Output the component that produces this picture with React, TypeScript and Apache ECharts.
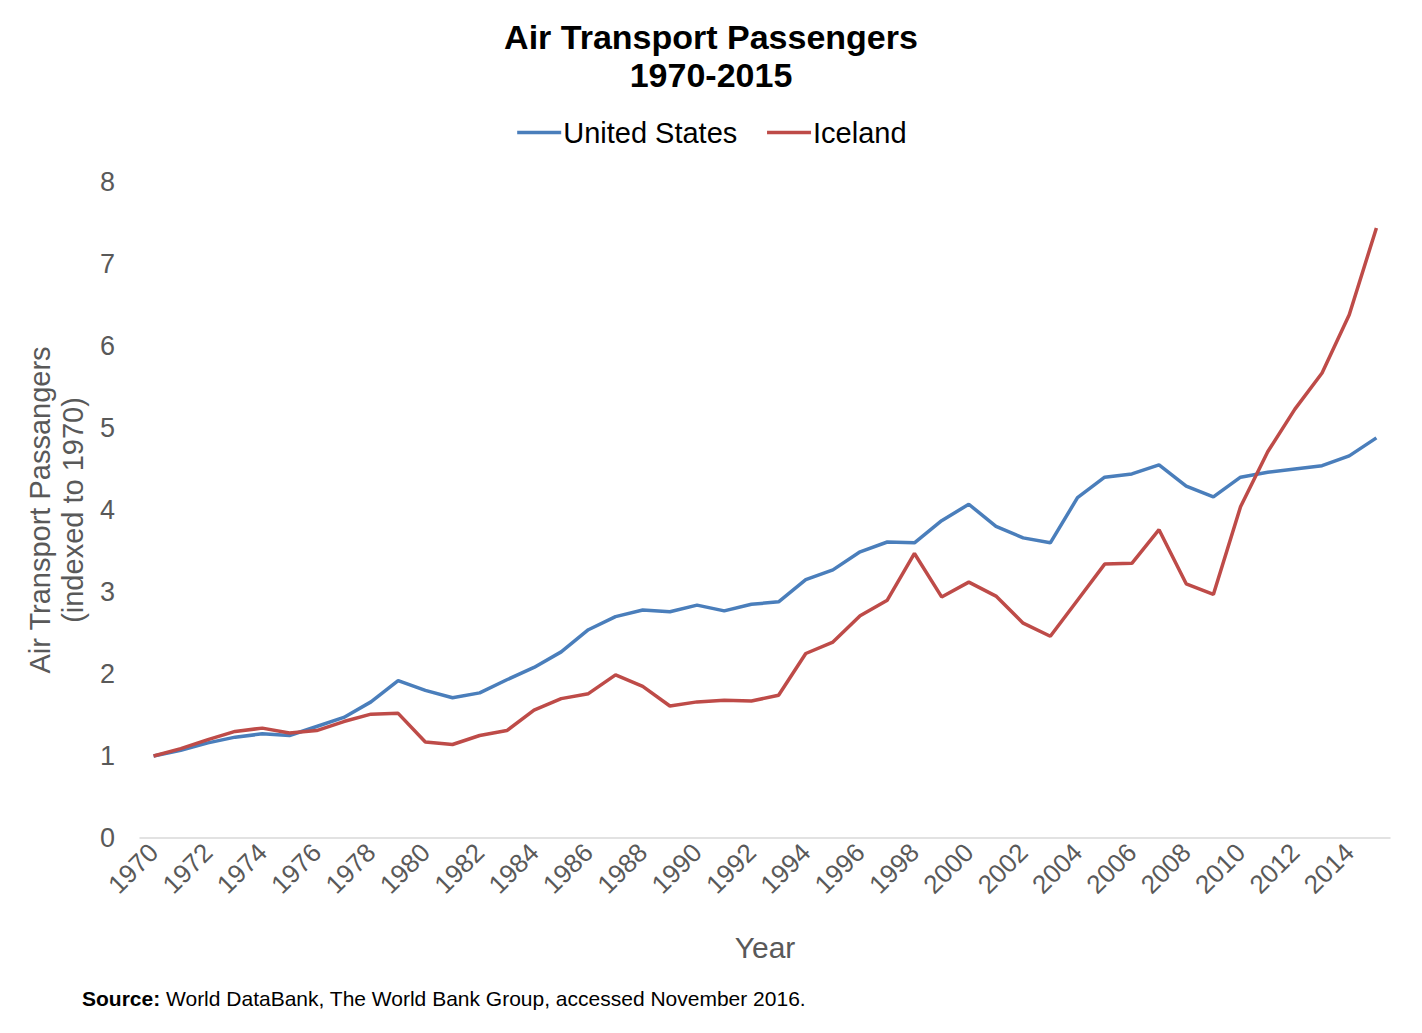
import React, { useEffect, useRef } from "react";
import * as echarts from "echarts";

const years: string[] = [];
for (let y = 1970; y <= 2015; y++) years.push(String(y));

const unitedStates = [
  1.0, 1.07, 1.16, 1.23, 1.27, 1.25, 1.36, 1.47, 1.66, 1.92,
  1.8, 1.71, 1.77, 1.93, 2.08, 2.27, 2.54, 2.7, 2.78, 2.76,
  2.84, 2.77, 2.85, 2.88, 3.15, 3.27, 3.49, 3.61, 3.6, 3.87,
  4.07, 3.8, 3.66, 3.6, 4.15, 4.4, 4.44, 4.55, 4.29, 4.16,
  4.4, 4.46, 4.5, 4.54, 4.66, 4.88,
];

const iceland = [
  1.0, 1.09, 1.2, 1.3, 1.34, 1.28, 1.31, 1.42, 1.51, 1.52,
  1.17, 1.14, 1.25, 1.31, 1.56, 1.7, 1.76, 1.99, 1.85, 1.61,
  1.66, 1.68, 1.67, 1.74, 2.25, 2.39, 2.71, 2.9, 3.47, 2.94,
  3.12, 2.95, 2.62, 2.46, 2.9, 3.34, 3.35, 3.76, 3.1, 2.97,
  4.04, 4.71, 5.23, 5.67, 6.38, 7.44,
];

const FONT = "Liberation Sans, Arial, sans-serif";
const GRAY = "#595959";

export default function App() {
  const ref = useRef<HTMLDivElement>(null);
  useEffect(() => {
    document.body.style.margin = "0";
    const chart = echarts.init(ref.current!, null, { renderer: "svg" });
    chart.setOption({
      animation: false,
      backgroundColor: "#ffffff",
      textStyle: { fontFamily: FONT },
      title: {
        text: "Air Transport Passengers\n1970-2015",
        left: "center",
        top: 13,
        textStyle: {
          fontFamily: FONT,
          fontSize: 34,
          fontWeight: "bold",
          color: "#000000",
          lineHeight: 38,
        },
      },
      legend: {
        top: 113,
        left: "center",
        itemWidth: 44,
        itemHeight: 3,
        itemGap: 28,
        lineStyle: { width: 3.5 },
        textStyle: { fontFamily: FONT, fontSize: 29, color: "#000000", padding: [0, 0, 0, -3] },
        data: ["United States", "Iceland"],
      },
      grid: { left: 140, right: 32, top: 182, bottom: 195 },
      xAxis: {
        type: "category",
        data: years,
        boundaryGap: true,
        name: "Year",
        nameLocation: "middle",
        nameGap: 94,
        nameTextStyle: { fontFamily: FONT, fontSize: 30, color: GRAY },
        axisLine: { lineStyle: { color: "#d9d9d9", width: 1.5 } },
        axisTick: { show: false },
        axisLabel: {
          interval: 1,
          rotate: 45,
          margin: 10,
          fontFamily: FONT,
          fontSize: 26,
          color: GRAY,
        },
      },
      yAxis: {
        type: "value",
        min: 0,
        max: 8,
        interval: 1,
        name: "Air Transport Passangers\n(indexed to 1970)",
        nameLocation: "middle",
        nameRotate: 90,
        nameGap: 48,
        nameTextStyle: { fontFamily: FONT, fontSize: 29, color: GRAY, lineHeight: 33 },
        axisLine: { show: false },
        axisTick: { show: false },
        splitLine: { show: false },
        axisLabel: { fontFamily: FONT, fontSize: 27, color: GRAY, margin: 25 },
      },
      series: [
        {
          name: "United States",
          type: "line",
          data: unitedStates,
          symbol: "none",
          lineStyle: { width: 3.5, color: "#4A7EBB" },
          itemStyle: { color: "#4A7EBB" },
        },
        {
          name: "Iceland",
          type: "line",
          data: iceland,
          symbol: "none",
          lineStyle: { width: 3.5, color: "#BE4B48" },
          itemStyle: { color: "#BE4B48" },
        },
      ],
      graphic: [
        {
          type: "text",
          left: 82,
          top: 988,
          style: {
            text: "{b|Source:} World DataBank, The World Bank Group, accessed November 2016.",
            font: `21px ${FONT}`,
            fill: "#000000",
            rich: {
              b: { fontWeight: "bold", fontSize: 21, fontFamily: FONT, fill: "#000000" },
            },
          },
        },
      ],
    });
    return () => chart.dispose();
  }, []);
  return <div ref={ref} style={{ width: 1422, height: 1033 }} />;
}
